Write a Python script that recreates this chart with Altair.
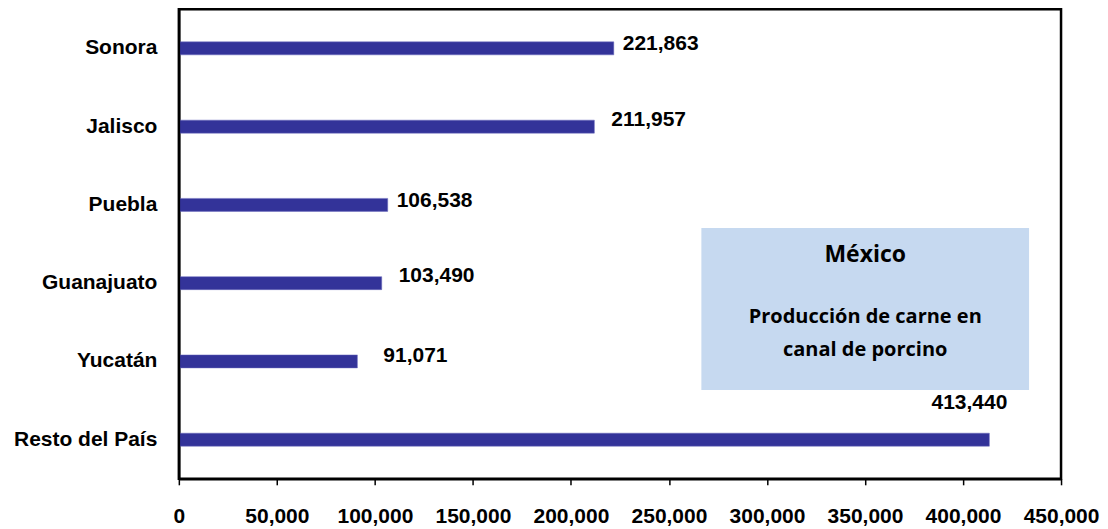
import altair as alt
import pandas as pd

estados = ["Sonora", "Jalisco", "Puebla", "Guanajuato", "Yucatán\u00a0", "Resto del País"]
toneladas = [221863, 211957, 106538, 103490, 91071, 413440]
x_ticks = [0, 50000, 100000, 150000, 200000, 250000, 300000, 350000, 400000, 450000]
titulo_caja = "México"
texto_caja = ["Producción de carne en", "canal de porcino"]

df = pd.DataFrame({"estado": estados, "valor": toneladas})
df["etiqueta"] = df["valor"].map(lambda v: f"{v:,}")

FONT = "Liberation Sans"
BOX_FONT = "Open Sans"
FS = 21
W, H = 883, 470

x_enc = alt.X(
    "valor:Q",
    scale=alt.Scale(domain=[0, 450000], nice=False),
    axis=alt.Axis(
        values=x_ticks, format=",.0f", title=None, grid=False,
        labelFont=FONT, labelFontSize=FS, labelFontWeight="bold", labelColor="black",
        labelPadding=21, tickSize=6, tickColor="black", tickWidth=1.5,
        domainColor="black", domainWidth=2.5, labelFlush=False,
    ),
)
y_enc = alt.Y(
    "estado:N", sort=estados,
    scale=alt.Scale(paddingInner=0.834, paddingOuter=0.417),
    axis=alt.Axis(
        title=None, ticks=False, domain=True, domainColor="black", domainWidth=2.5,
        labelFont=FONT, labelFontSize=FS, labelFontWeight="bold", labelColor="black",
        labelPadding=22,
    ),
)

base = alt.Chart(df)

bars = base.mark_bar(color="#333399", stroke="#6b6bbf", strokeWidth=0.5).encode(x=x_enc, y=y_enc)

def label_layer(names, dx, dy, align="left"):
    return base.transform_filter(
        alt.FieldOneOfPredicate(field="estado", oneOf=names)
    ).mark_text(
        align=align, baseline="middle", dx=dx, dy=dy,
        font=FONT, fontSize=FS, fontWeight="bold", color="black",
    ).encode(x="valor:Q", y=alt.Y("estado:N", sort=estados), text="etiqueta:N")

labels = (
    label_layer(["Sonora", "Puebla"], 9, -4)
    + label_layer(["Jalisco", "Guanajuato"], 17, -7)
    + label_layer([estados[4]], 26, -5)
    + label_layer(["Resto del País"], 18, -37, align="right")
)

box = alt.Chart(pd.DataFrame({"k": [0]})).mark_rect(color="#c6d9f0").encode(
    x=alt.value(523), x2=alt.value(851), y=alt.value(219), y2=alt.value(381)
)
box_title = alt.Chart(pd.DataFrame({"t": [titulo_caja]})).mark_text(
    font=BOX_FONT, fontSize=23, fontWeight="bold", color="black", align="center", baseline="middle"
).encode(x=alt.value(687), y=alt.value(246), text="t:N")
box_body = alt.Chart(pd.DataFrame({"t": [texto_caja]})).mark_text(
    font=BOX_FONT, fontSize=20, fontWeight="bold", color="black", align="center",
    baseline="middle", lineHeight=33,
).encode(x=alt.value(687), y=alt.value(308), text="t:N")

frame = alt.Chart(pd.DataFrame({"k": [0]})).mark_rect(
    fill="transparent", stroke="black", strokeWidth=2.5
).encode(x=alt.value(0), x2=alt.value(W), y=alt.value(0), y2=alt.value(H))

chart = (
    alt.layer(box, bars, labels, box_title, box_body, frame)
    .properties(
        width=W, height=H,
        autosize=alt.AutoSizeParams(type="none"),
        padding={"left": 171, "top": 1, "right": 39, "bottom": 50},
    )
    .configure_view(strokeWidth=0)
    .configure(background="white")
)

chart.save("out.html", embed_options={"renderer": "svg", "actions": False})
